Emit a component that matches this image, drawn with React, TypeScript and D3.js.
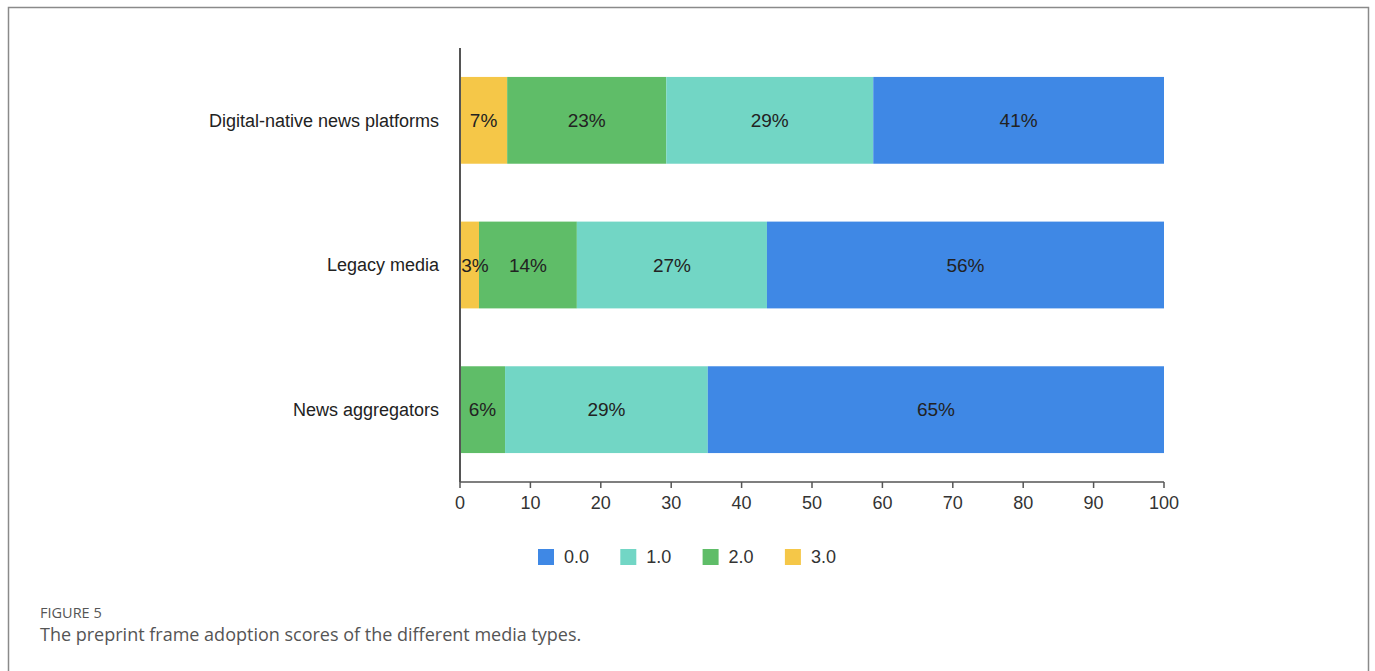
import React from "react";
import * as d3 from "d3";

const categories = ["Digital-native news platforms", "Legacy media", "News aggregators"];
const seriesKeys = ["0.0", "1.0", "2.0", "3.0"];
const score3 = [6.7, 2.7, 0];
const score2 = [22.6, 13.9, 6.4];
const score1 = [29.4, 27.0, 28.8];
const score0 = [41.3, 56.4, 64.8];
const labels3 = ["7%", "3%", ""];
const labels2 = ["23%", "14%", "6%"];
const labels1 = ["29%", "27%", "29%"];
const labels0 = ["41%", "56%", "65%"];
const xTicks = [0, 10, 20, 30, 40, 50, 60, 70, 80, 90, 100];
const colors: Record<string, string> = { "0.0": "#3f88e5", "1.0": "#72d6c5", "2.0": "#5fbd68", "3.0": "#f5c748" };

export default function App() {
  const W = 1375, H = 671;
  const x = d3.scaleLinear().domain([0, 100]).range([460, 1164]);
  const y = d3.scaleBand().domain(categories).range([48, 482]).paddingInner(0.4).paddingOuter(0.2);
  const rows = categories.map((c, i) => ({ cat: c, "3.0": score3[i], "2.0": score2[i], "1.0": score1[i], "0.0": score0[i] }));
  const order = ["3.0", "2.0", "1.0", "0.0"];
  const stack = d3.stack<any>().keys(order)(rows);
  const labelMap: Record<string, string[]> = { "3.0": labels3, "2.0": labels2, "1.0": labels1, "0.0": labels0 };
  const font = "'Liberation Sans', Arial, sans-serif";
  return (
    <svg width={W} height={H} style={{ position: "absolute", left: 0, top: 0, background: "#fff" }}>
      <rect x={8.5} y={7.5} width={1360} height={700} fill="#fff" stroke="#8a8a8a" strokeWidth={1.5} />
      {stack.map((layer) => (
        <g key={layer.key}>
          {layer.map((d, i) => {
            const w = x(d[1]) - x(d[0]);
            if (w <= 0) return null;
            return <rect key={i} x={x(d[0])} y={y(categories[i])!} width={w} height={y.bandwidth()} fill={colors[layer.key]} />;
          })}
        </g>
      ))}
      {stack.map((layer) => (
        <g key={"l" + layer.key}>
          {layer.map((d, i) => {
            const w = x(d[1]) - x(d[0]);
            if (w <= 0) return null;
            const cx = Math.max((x(d[0]) + x(d[1])) / 2, x(d[0]) + 15);
            return (
              <text key={i} x={cx} y={y(categories[i])! + y.bandwidth() / 2} dy="0.35em" textAnchor="middle" fontSize={19} fill="#222" fontFamily={font}>
                {labelMap[layer.key][i]}
              </text>
            );
          })}
        </g>
      ))}
      <line x1={460} x2={460} y1={48} y2={482} stroke="#555" strokeWidth={2} />
      <line x1={460} x2={1164} y1={482} y2={482} stroke="#555" strokeWidth={1.5} />
      {xTicks.map((t) => (
        <g key={t}>
          <line x1={x(t)} x2={x(t)} y1={482} y2={488} stroke="#555" strokeWidth={1.5} />
          <text x={x(t)} y={503} dy="0.35em" textAnchor="middle" fontSize={18} fill="#333" fontFamily={font}>{t}</text>
        </g>
      ))}
      {categories.map((c) => (
        <text key={c} x={439} y={y(c)! + y.bandwidth() / 2} dy="0.35em" textAnchor="end" fontSize={18} fill="#222" fontFamily={font}>{c}</text>
      ))}
      {seriesKeys.map((k, i) => (
        <g key={k} transform={`translate(${538 + i * 82.3},549)`}>
          <rect width={16} height={16} fill={colors[k]} />
          <text x={26} y={8} dy="0.35em" fontSize={18} fill="#333" fontFamily={font}>{k}</text>
        </g>
      ))}
      <text x={40} y={613} dy="0.35em" fontSize={14.5} fontWeight={500} fill="#555" fontFamily="'Open Sans', sans-serif">FIGURE 5</text>
      <text x={40} y={635} dy="0.35em" fontSize={18} fill="#555" fontFamily="'Open Sans', sans-serif">The preprint frame adoption scores of the different media types.</text>
    </svg>
  );
}
